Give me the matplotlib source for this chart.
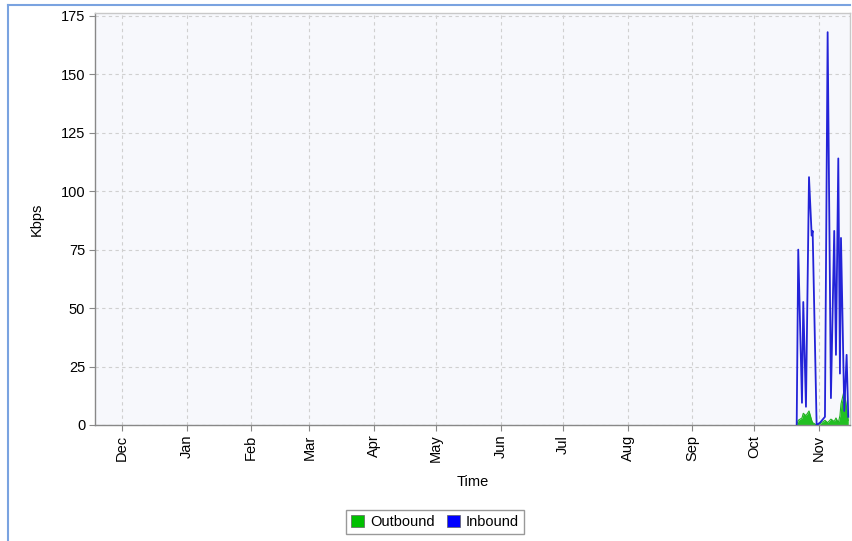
import matplotlib
matplotlib.use("Agg")
import matplotlib.pyplot as plt
import matplotlib.dates as mdates
from matplotlib.patches import Patch
from matplotlib.lines import Line2D
import pandas as pd

plt.rcParams['font.family'] = ['Liberation Sans', 'DejaVu Sans']

# ---- data ----
timestamps = [
    "2013-10-21 07:00", "2013-10-22 01:00", "2013-10-23 20:00", "2013-10-24 11:00",
    "2013-10-25 18:00", "2013-10-27 05:00", "2013-10-28 12:00", "2013-10-28 23:00",
    "2013-10-30 21:00", "2013-11-01 12:00", "2013-11-03 21:00", "2013-11-05 04:00",
    "2013-11-06 18:00", "2013-11-08 08:00", "2013-11-09 04:00", "2013-11-10 07:00",
    "2013-11-11 02:00", "2013-11-11 14:00", "2013-11-13 04:00", "2013-11-14 07:00",
    "2013-11-15 02:00",
]
inbound = [0, 75, 9.5, 52.6, 7.8, 106, 81, 83, 0, 1, 3.5, 168, 11.5, 83, 30, 114, 22, 80, 6, 30, 3.5]
outbound = [0, 2, 3, 5, 4, 6, 2, 1, 0, 0.5, 2, 1, 2.5, 1.5, 3, 1, 4, 9, 15, 7, 2]

x_start = "2012-11-18 00:00"
x_end = "2013-11-15 22:00"
y_ticks = [0, 25, 50, 75, 100, 125, 150, 175]

t = pd.to_datetime(timestamps)

# ---- figure ----
fig = plt.figure(figsize=(8.52, 5.41), dpi=100)
W, H = 852, 541
ax = fig.add_axes([95 / W, (H - 425) / H, (850 - 95) / W, (425 - 13) / H])
ax.set_facecolor('#f7f8fc')

ax.fill_between(t, outbound, 0, color='#22c022', lw=0, zorder=2)
ax.plot(t, outbound, color='#22b022', lw=0.8, zorder=2)
ax.plot(t, inbound, color='#2323d8', lw=1.3, zorder=3)

ax.set_xlim(pd.Timestamp(x_start), pd.Timestamp(x_end))
ax.set_ylim(0, 176.2)
ax.set_yticks(y_ticks)
ax.xaxis.set_major_locator(mdates.MonthLocator())
ax.xaxis.set_major_formatter(mdates.DateFormatter('%b'))
for lbl in ax.get_xticklabels():
    lbl.set_rotation(90)

ax.grid(True, color='#d0d0d0', linestyle=(0, (3, 3)), linewidth=0.8)
ax.set_axisbelow(True)

for side in ['left', 'bottom']:
    ax.spines[side].set_color('#888888')
    ax.spines[side].set_linewidth(1.0)
for side in ['top', 'right']:
    ax.spines[side].set_color('#c8c8c8')
    ax.spines[side].set_linewidth(1.0)

ax.tick_params(axis='both', colors='#888888', labelcolor='black', labelsize=10.5,
               length=4, width=0.8, pad=3)

ax.set_ylabel('Kbps', fontsize=10.5, labelpad=12)
ax.set_xlabel('Time', fontsize=10.5, labelpad=9)

handles = [Patch(facecolor='#00c000', edgecolor='#606060', lw=0.5, label='Outbound'),
           Patch(facecolor='#0000ff', edgecolor='#606060', lw=0.5, label='Inbound')]
fig.legend(handles=handles, loc='center', bbox_to_anchor=(435 / W, 1 - 522 / H),
           ncol=2, fontsize=10.5, frameon=True, fancybox=False, edgecolor='#808080',
           handlelength=0.9, handleheight=0.9, handletextpad=0.4, columnspacing=0.8,
           borderpad=0.35)

# blue frame at left / top
fig.add_artist(Line2D([7.5 / W, 7.5 / W], [0, 1 - 5 / H], color='#7aa3e0', lw=1.5,
                      transform=fig.transFigure))
fig.add_artist(Line2D([7.5 / W, 850 / W], [1 - 5 / H, 1 - 5 / H], color='#7aa3e0', lw=1.5,
                      transform=fig.transFigure))

fig.savefig('out.png', dpi=100)
